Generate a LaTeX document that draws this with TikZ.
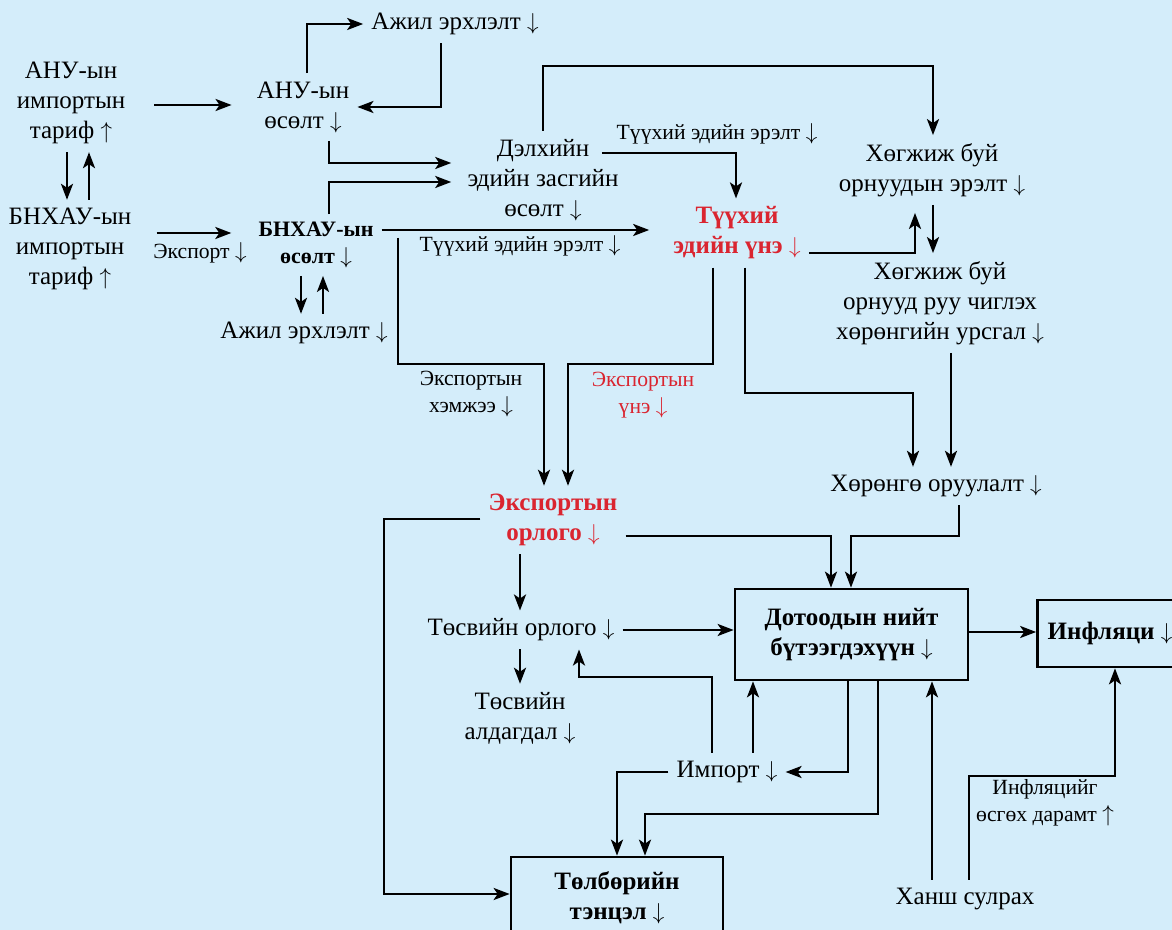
\documentclass[tikz,border=0pt]{standalone}
\usepackage{fontspec}
\setmainfont{Liberation Serif}
\usetikzlibrary{arrows.meta}
\definecolor{bg}{RGB}{212,237,250}
\definecolor{hl}{RGB}{218,37,48}
\newcommand{\arrdn}{\ensuremath{\mathord{\downarrow}}}
\newcommand{\arrup}{\ensuremath{\mathord{\uparrow}}}
\begin{document}
\begin{tikzpicture}[x=0.75pt,y=-0.75pt,
  txt/.style={inner xsep=6pt, inner ysep=6pt, align=center, font=\fontsize{18.75}{22.5}\selectfont},
  sml/.style={inner sep=0pt, align=center, font=\fontsize{16.25}{20}\selectfont},
  bld/.style={txt, font=\fontsize{18.75}{22.5}\selectfont\bfseries},
  hot/.style={text=hl},
  box/.style={draw, line width=2pt, bld},
  arr/.style={line width=2pt, -{Stealth[length=12pt,width=9pt,inset=3pt]}},
]
\useasboundingbox (0,0) rectangle (1172,930);
\fill[bg] (0,0) rectangle (1172,930);
\clip (0,0) rectangle (1172,930);

% nodes
\node[txt] (usTariff) at (71,103) {АНУ-ын\\импортын\\тариф \arrup};
\node[txt] (cnTariff) at (70,249) {БНХАУ-ын\\импортын\\тариф \arrup};
\node[txt] (usGrowth) at (303,107) {АНУ-ын\\өсөлт \arrdn};
\node[txt] (jobTop) at (455,24) {Ажил эрхлэлт \arrdn};
\node[bld, font=\fontsize{16.5}{19.75}\selectfont\bfseries] (cnGrowth) at (316,245) {БНХАУ-ын\\өсөлт \arrdn};
\node[txt] (jobBot) at (304,333) {Ажил эрхлэлт \arrdn};
\node[txt] (world) at (543,180) {Дэлхийн\\эдийн засгийн\\өсөлт \arrdn};
\node[bld,hot] (commodity) at (737,233) {Түүхий\\эдийн үнэ \arrdn};
\node[txt] (devDemand) at (932,170) {Хөгжиж буй\\орнуудын эрэлт \arrdn};
\node[txt] (capFlow) at (940,303) {Хөгжиж буй\\орнууд руу чиглэх\\хөрөнгийн урсгал \arrdn};
\node[txt] (invest) at (936,486) {Хөрөнгө оруулалт \arrdn};
\node[bld,hot] (expRev) at (553,520) {Экспортын\\орлого \arrdn};
\node[txt] (budRev) at (521,630) {Төсвийн орлого \arrdn};
\node[txt] (budDef) at (520,718) {Төсвийн\\алдагдал \arrdn};
\node[box, minimum width=174.75pt, minimum height=68.25pt] (gdp) at (851.5,634.5) {Дотоодын нийт\\бүтээгдэхүүн \arrdn};
\node[box, minimum width=108.75pt, minimum height=50.25pt] (infl) at (1110,633.5) {Инфляци \arrdn};
\node[box, minimum width=159pt, minimum height=61.5pt] (bop) at (617,898) {Төлбөрийн\\тэнцэл \arrdn};
\node[txt] (import) at (727,772) {Импорт \arrdn};
\node[txt] (khansh) at (965,899) {Ханш сулрах};

% edge labels
\node[sml] (lExport) at (200,253) {Экспорт \arrdn};
\node[sml] (lCommA) at (717,134) {Түүхий эдийн эрэлт \arrdn};
\node[sml] (lCommB) at (520,246) {Түүхий эдийн эрэлт \arrdn};
\node[sml] (lVol) at (471,394) {Экспортын\\хэмжээ \arrdn};
\node[sml,hot] (lPrice) at (643,395) {Экспортын\\үнэ \arrdn};
\node[sml] (lInfl) at (1045,803) {Инфляцийг\\өсгөх дарамт \arrup};

% connectors
\draw[arr, shorten <=15.75pt, shorten >=12.75pt] (usTariff.east |- 0,105) -- (usGrowth.west |- 0,105);
\draw[arr, shorten <=12.75pt, shorten >=14.25pt] (cnTariff.east |- 0,233) -- (cnGrowth.west |- 0,233);
\draw[arr] (usTariff.south -| 67,0) -- (cnTariff.north -| 67,0);
\draw[arr] (cnTariff.north -| 89,0) -- (usTariff.south -| 89,0);
\draw[arr] (usGrowth.north -| 307,0) |- (jobTop.west);
\draw[arr] (jobTop.south -| 441,0) |- (usGrowth.east);
\draw[arr, shorten >=6pt] (usGrowth.south -| 329,0) |- (world.west |- 0,163);
\draw[arr, shorten >=6pt] (cnGrowth.north -| 329,0) |- (world.west |- 0,182);
\draw[arr, shorten >=12pt] (cnGrowth.east |- 0,230) -- (commodity.west |- 0,230);
\draw[arr] (cnGrowth.south -| 301,0) -- (jobBot.north -| 301,0);
\draw[arr] (jobBot.north -| 323,0) -- (cnGrowth.south -| 323,0);
\draw[arr, shorten <=-18.75pt] (world.east |- 0,153) -| (commodity.north -| 736,0);
\draw[arr] (world.north -| 543,0) -- (543,66) -| (devDemand.north -| 933,0);
\draw[arr, shorten >=6pt] (commodity.east |- 0,253) -| (devDemand.south -| 915,0);
\draw[arr] (devDemand.south -| 933,0) -- (capFlow.north -| 933,0);
\draw[arr] (capFlow.south -| 951,0) -- (invest.north -| 951,0);
\draw[arr] (commodity.south -| 745,0) -- (745,393) -| (invest.north -| 913,0);
\draw[arr] (commodity.south -| 713,0) -- (713,364) -| (expRev.north -| 568,0);
\draw[arr] (cnGrowth -| 398,0) ++(0,-7) -- (398,364) -| (expRev.north -| 544,0);
\draw[arr] (expRev.east |- 0,536) -| (gdp.north -| 831,0);
\draw[arr] (invest.south -| 959,0) -- (959,536) -| (gdp.north -| 851,0);
\draw[arr] (expRev.south -| 520,0) -- (budRev.north -| 520,0);
\draw[arr] (budRev.east) -- (gdp.west |- budRev.east);
\draw[arr] (budRev.south -| 520,0) -- (budDef.north -| 520,0);
\draw[arr] (import.north -| 712,0) -- (712,677) -| (budRev.south -| 579,0);
\draw[arr] (import.north -| 753,0) -- (gdp.south -| 753,0);
\draw[arr] (gdp.south -| 848,0) |- (import.east);
\draw[arr] (gdp.south -| 878,0) -- (878,814) -| (bop.north -| 645,0);
\draw[arr] (import.west) -| (bop.north -| 617,0);
\draw[arr] (expRev.west |- 0,519) -- (384,519) |- (bop.west |- 0,894);
\draw[arr] (gdp.east |- 0,632) -- (infl.west |- 0,632);
\draw[arr] (khansh.north -| 932,0) -- (gdp.south -| 932,0);
\draw[arr] (khansh.north -| 969,0) -- (969,776) -| (infl.south -| 1115,0);
\end{tikzpicture}
\end{document}
